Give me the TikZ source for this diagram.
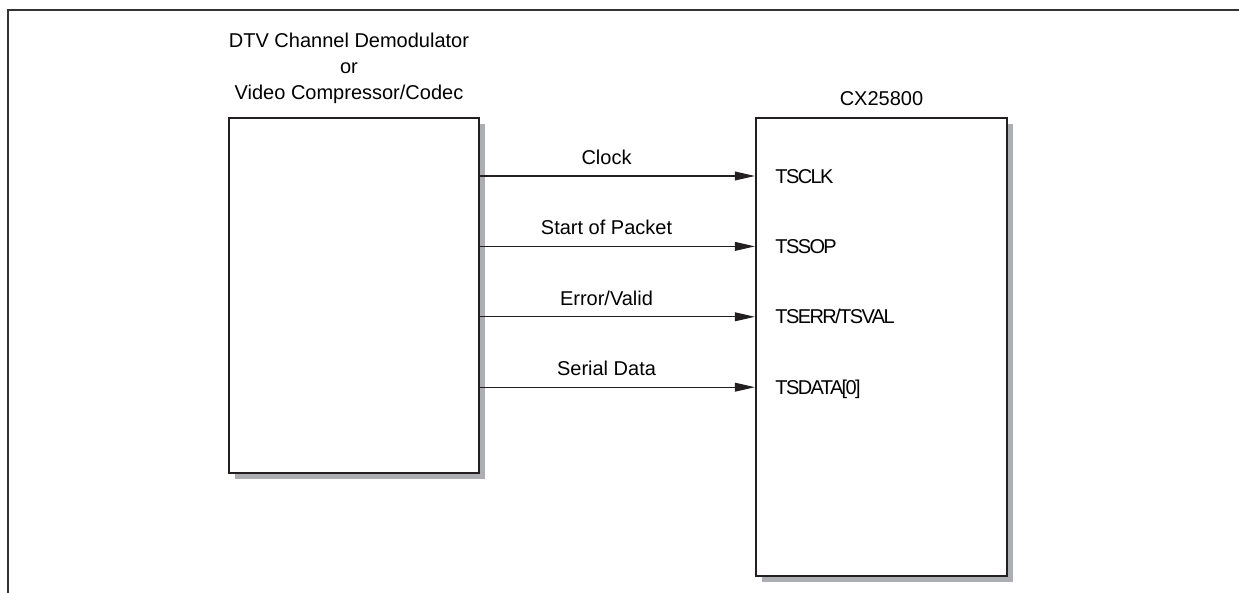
\documentclass[tikz,border=0pt]{standalone}
\usepackage{fontspec}
\setmainfont{Liberation Sans}
\newfontfamily\pinfont{Liberation Sans}[LetterSpace=-8]
\usepackage{xcolor}
\usepackage{tikz}
\usetikzlibrary{positioning,arrows.meta,shadows}
\definecolor{shadowgray}{RGB}{172,174,177}
\definecolor{linedark}{RGB}{35,31,32}
\tikzset{
  chipbox/.style={
    draw=linedark,
    rectangle,
    line width=1.1pt,
    fill=white,
    inner sep=0pt,
    drop shadow={shadow xshift=3pt, shadow yshift=-3pt, fill=shadowgray, opacity=1}
  },
  titletext/.style={
    align=center,
    font=\fontsize{10}{12.85}\selectfont,
    inner sep=0pt
  },
  pinlabel/.style={
    anchor=west,
    font=\fontsize{10}{12}\selectfont\pinfont,
    inner sep=0pt,
    text height=7.2pt,
    text depth=0pt
  },
  siglabel/.style={
    pos=0.46,
    above=5.5pt,
    font=\fontsize{10}{12}\selectfont,
    inner sep=0pt,
    text depth=0pt
  },
  sigarrow/.style={
    ->,
    line width=0.6pt,
    draw=linedark
  },
  framerule/.style={
    line width=1pt,
    draw=black!80
  }
}
\begin{document}
\begin{tikzpicture}[
    x=0.5pt, y=-0.5pt,
    >={Triangle[length=10pt,width=4.4pt]}
    ]
    \useasboundingbox (0,0) rectangle (1239,593);
    \draw[framerule] (1239,10) -- (8,10) -- (8,593);

    \node[chipbox, minimum width=125pt, minimum height=177.5pt] (demod) at (354,295.5) {};
    \node[chipbox, minimum width=125.5pt, minimum height=229pt] (cx) at (881.5,347) {};

    \node[titletext, above=6.5pt of demod, xshift=-2.5pt] (demodtitle) {DTV Channel Demodulator\\or\\Video Compressor/Codec};
    \node[titletext, above=5.5pt of cx] (cxtitle) {CX25800};

    \node[pinlabel] (pinclk) at (775,176) {TSCLK};
    \node[pinlabel, below=35.2pt of pinclk.west, anchor=west] (pinsop) {TSSOP};
    \node[pinlabel, below=35.2pt of pinsop.west, anchor=west] (pinerr) {TSERR/TSVAL};
    \node[pinlabel, below=35.2pt of pinerr.west, anchor=west] (pindata) {TSDATA[0]};

    \draw[sigarrow] (demod.east |- pinclk) -- node[siglabel] {Clock} (cx.west |- pinclk);
    \draw[sigarrow] (demod.east |- pinsop) -- node[siglabel] {Start of Packet} (cx.west |- pinsop);
    \draw[sigarrow] (demod.east |- pinerr) -- node[siglabel] {Error/Valid} (cx.west |- pinerr);
    \draw[sigarrow] (demod.east |- pindata) -- node[siglabel] {Serial Data} (cx.west |- pindata);

    \end{tikzpicture}
\end{document}
